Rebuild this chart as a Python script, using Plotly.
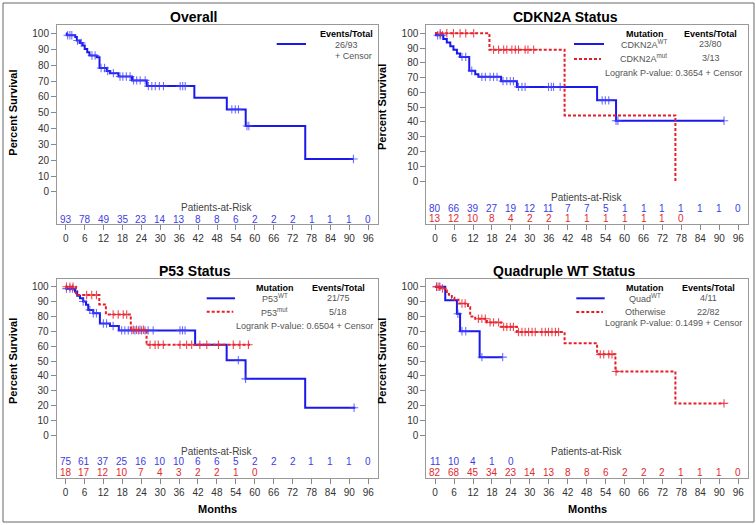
import numpy as np
import plotly.graph_objects as go

W, H = 756, 525
def PX(x): return x / W
def PY(y): return 1 - y / H

FONT = "Liberation Sans, Arial, sans-serif"
BLUE = "rgb(25,25,235)"
BLUE_C = "rgba(60,60,255,0.75)"
BLUE_T = "rgb(60,60,230)"
RED = "rgb(230,30,40)"
RED_C = "rgba(235,40,50,0.85)"
RED_T = "rgb(225,40,45)"

month_ticks = list(range(0, 97, 6))
surv_ticks = list(range(0, 101, 10))

# ---------------- Overall ----------------
ov_t = [0.3, 3.0, 3.5, 4.5, 5.3, 6.0, 6.8, 7.5, 9.8, 10.7, 13.0, 14.0, 16.7, 21.0, 25.7, 40.8, 51.1, 57.1, 76.0]
ov_s = [98.9, 97.8, 95.6, 94.1, 92.4, 90.3, 88.2, 86.1, 85.1, 78.2, 76.3, 75.0, 72.9, 70.4, 66.8, 59.5, 52.1, 41.6, 20.8]
ov_end = 91.3
ov_cens = [0.6, 1.3, 1.9, 3.7, 4.9, 8.3, 9.3, 11.2, 12.3, 13.3, 15.1, 17.2, 18.1, 19.2, 20.4,
           21.5, 22.5, 23.6, 25.2, 26.2, 27.3, 28.4, 29.7, 31.0, 36.3, 37.1, 37.9, 52.7, 53.8,
           54.8, 57.5, 58.1, 91.3]
ov_risk = [93, 78, 49, 35, 23, 14, 13, 8, 8, 6, 2, 2, 2, 1, 1, 1, 0]

# ---------------- CDKN2A ----------------
cw_t = [0.3, 2.6, 3.7, 4.8, 5.8, 6.9, 7.9, 10.8, 12.7, 13.7, 20.9, 25.9, 51.3, 57.3]
cw_s = [98.7, 96.2, 93.7, 91.2, 88.9, 86.3, 84.0, 74.6, 72.3, 70.5, 67.6, 63.7, 54.6, 40.8]
cw_end = 91.5
cw_cens = [0.8, 1.6, 2.3, 8.5, 9.7, 11.6, 14.8, 15.9, 17.4, 18.5, 19.6, 21.5, 22.7, 23.8, 24.8,
           26.4, 27.5, 28.5, 35.9, 36.8, 37.5, 39.6, 52.9, 53.9, 55.0, 57.3, 57.9, 91.5]
cm_t = [17.2, 41.0, 76.1]
cm_s = [88.9, 44.4, 0.0]
cm_end = 76.1
cm_cens = [1.6, 3.7, 5.8, 7.9, 9.7, 12.2, 18.5, 20.1, 21.7, 22.7, 24.3, 25.4, 26.4, 28.5, 29.4, 31.2]
cw_risk = [80, 66, 39, 27, 19, 12, 11, 7, 7, 5, 1, 1, 1, 1, 1, 1, 0]
cm_risk = [13, 12, 10, 8, 4, 2, 2, 1, 1, 1, 1, 1, 1, 0]

# ---------------- P53 ----------------
pw_t = [0.3, 3.0, 3.7, 4.6, 5.6, 6.5, 7.2, 8.8, 10.9, 14.1, 16.9, 41.1, 51.1, 57.1, 76.0]
pw_s = [98.7, 96.8, 93.9, 92.3, 90.1, 87.8, 84.4, 82.2, 75.3, 73.6, 70.6, 61.0, 50.6, 38.0, 18.6]
pw_end = 91.9
pw_cens = [0.3, 1.4, 2.2, 5.6, 7.7, 8.8, 9.8, 12.0, 13.0, 15.1, 17.8, 18.8, 19.9, 21.0, 22.0,
           23.1, 24.1, 25.2, 26.2, 27.8, 36.3, 37.1, 37.9, 54.8, 57.1, 91.5]
pm_t = [3.3, 10.7, 12.8, 20.7, 25.7]
pm_s = [94.4, 88.1, 81.3, 71.1, 61.0]
pm_end = 58.5
pm_cens = [0.3, 1.4, 2.4, 6.7, 8.3, 9.8, 15.1, 16.7, 18.3, 19.4, 21.5, 22.5, 23.6, 24.7, 26.8,
           28.4, 29.4, 31.0, 36.3, 38.4, 40.0, 42.6, 44.8, 48.5, 53.2, 55.3, 58.0]
pw_risk = [75, 61, 37, 25, 16, 10, 10, 6, 6, 5, 2, 2, 2, 1, 1, 1, 0]
pm_risk = [18, 17, 12, 10, 7, 4, 3, 2, 2, 1, 0]

# ---------------- Quadruple WT ----------------
qw_t = [3.2, 6.9, 7.9, 14.1]
qw_s = [90.9, 81.8, 70.0, 52.6]
qw_end = 21.4
qw_cens = [0.5, 1.5, 7.2, 8.5, 9.7, 14.8, 21.4]
qo_t = [1.6, 3.2, 3.7, 4.4, 5.3, 6.1, 7.4, 10.4, 11.1, 12.7, 16.4, 20.9, 25.9, 41.0, 51.3, 57.1, 76.1]
qo_s = [98.8, 97.5, 95.1, 93.8, 92.5, 91.2, 88.7, 86.2, 80.0, 78.5, 76.0, 73.0, 69.5, 62.0, 54.5, 43.0, 21.5]
qo_end = 91.5
qo_cens = [0.5, 1.2, 2.3, 8.5, 9.5, 13.7, 14.8, 15.9, 17.4, 18.5, 20.1, 21.7, 22.7, 23.8, 24.8,
           26.4, 27.5, 28.5, 29.6, 30.7, 31.7, 33.8, 34.9, 35.9, 37.0, 38.1, 39.1, 52.3, 53.4,
           55.0, 56.0, 57.3, 91.5]
qw_risk = [11, 10, 4, 1, 0]
qo_risk = [82, 68, 45, 34, 23, 14, 13, 8, 8, 6, 2, 2, 2, 1, 1, 1, 0]

# ---------------- helpers ----------------
def level(ev_t, ev_s, t):
    i = int(np.searchsorted(ev_t, t, side="right"))
    return 100.0 if i == 0 else ev_s[i - 1]

fig = go.Figure()

def add_curve(k, ev_t, ev_s, end_t, cens, color, ccolor, dash):
    xa = "x" if k == 1 else f"x{k}"
    ya = "y" if k == 1 else f"y{k}"
    xs = [0.0] + list(ev_t) + [end_t]
    ys = [100.0] + list(ev_s) + [ev_s[-1]]
    fig.add_trace(go.Scatter(x=xs, y=ys, mode="lines", line=dict(color=color, width=2, dash=dash, shape="hv"),
                             xaxis=xa, yaxis=ya, showlegend=False, hoverinfo="skip"))
    cy = [level(ev_t, ev_s, t) for t in cens]
    fig.add_trace(go.Scatter(x=cens, y=cy, mode="markers",
                             marker=dict(symbol="cross-thin", size=6, line=dict(width=1.1, color=ccolor)),
                             xaxis=xa, yaxis=ya, showlegend=False, hoverinfo="skip"))

add_curve(1, ov_t, ov_s, ov_end, ov_cens, BLUE, BLUE_C, "solid")
add_curve(2, cw_t, cw_s, cw_end, cw_cens, BLUE, BLUE_C, "solid")
add_curve(2, cm_t, cm_s, cm_end, cm_cens, RED, RED_C, "3px,2px")
add_curve(3, pw_t, pw_s, pw_end, pw_cens, BLUE, BLUE_C, "solid")
add_curve(3, pm_t, pm_s, pm_end, pm_cens, RED, RED_C, "3px,2px")
add_curve(4, qw_t, qw_s, qw_end, qw_cens, BLUE, BLUE_C, "solid")
add_curve(4, qo_t, qo_s, qo_end, qo_cens, RED, RED_C, "3px,2px")

# panel frames (pixel) and y ranges
panels = {
    1: dict(x=(57, 377.7), y=(25, 224), yr=(-20.3, 105.4)),
    2: dict(x=(426.3, 747.7), y=(25, 224.3), yr=(-29.3, 105.6)),
    3: dict(x=(56.7, 377.7), y=(279, 478.3), yr=(-28.9, 105.2)),
    4: dict(x=(426.3, 747.7), y=(279, 478.3), yr=(-28.9, 105.2)),
}
layout = {}
for k, p in panels.items():
    xn = "xaxis" if k == 1 else f"xaxis{k}"
    yn = "yaxis" if k == 1 else f"yaxis{k}"
    ya = "y" if k == 1 else f"y{k}"
    xa = "x" if k == 1 else f"x{k}"
    layout[xn] = dict(domain=[PX(p["x"][0]), PX(p["x"][1])], anchor=ya, range=[-2.8, 99],
                      tickvals=month_ticks, ticks="outside", ticklen=5, tickcolor="#888",
                      showline=True, mirror=True, linecolor="#999", linewidth=1,
                      showgrid=False, zeroline=False, fixedrange=True,
                      tickfont=dict(family=FONT, size=10, color="#333"))
    layout[yn] = dict(domain=[PY(p["y"][1]), PY(p["y"][0])], anchor=xa, range=list(p["yr"]),
                      tickvals=surv_ticks, ticks="outside", ticklen=5, tickcolor="#888",
                      showline=True, mirror=True, linecolor="#999", linewidth=1,
                      showgrid=False, zeroline=False, fixedrange=True,
                      tickfont=dict(family=FONT, size=10, color="#333"))

ann = []
def txt(x, y, s, size=9, color="#555", bold=False, xanchor="center", **kw):
    if bold:
        s = f"<b>{s}</b>"
    d = dict(x=PX(x), y=PY(y), xref="paper", yref="paper", text=s, showarrow=False,
             xanchor=xanchor, yanchor="middle", font=dict(family=FONT, size=size, color=color))
    d.update(kw)
    ann.append(d)

# titles
txt(193.5, 16.7, "Overall", size=14, color="#000", bold=True)
txt(565, 16.7, "CDKN2A Status", size=14, color="#000", bold=True)
txt(194.5, 271, "P53 Status", size=14, color="#000", bold=True)
txt(564, 271, "Quadruple WT Status", size=14, color="#000", bold=True)

# y axis titles
for (x, y) in [(13, 112.7), (382, 107), (13, 361), (382, 361)]:
    txt(x, y, "Percent Survival", size=11, color="#000", bold=True, textangle=-90)
# x axis titles
txt(217.2, 509, "Months", size=11, color="#000", bold=True)
txt(587, 509, "Months", size=11, color="#000", bold=True)

# at-risk tables
def risk(k, vals, yval, color):
    xa = "x" if k == 1 else f"x{k}"
    ya = "y" if k == 1 else f"y{k}"
    for t, v in zip(month_ticks, vals):
        ann.append(dict(x=t, y=yval, xref=xa, yref=ya, text=str(v), showarrow=False,
                        xanchor="center", yanchor="middle",
                        font=dict(family=FONT, size=10, color=color)))

def risk_head(k, yval):
    xa = "x" if k == 1 else f"x{k}"
    ya = "y" if k == 1 else f"y{k}"
    ann.append(dict(x=0.5, y=yval, xref=f"{xa} domain", yref=ya, text="Patients-at-Risk",
                    showarrow=False, xanchor="center", yanchor="middle",
                    font=dict(family=FONT, size=10, color="#444")))

risk_head(1, -10.0); risk(1, ov_risk, -17.2, BLUE_T)
risk_head(2, -11.0); risk(2, cw_risk, -18.5, BLUE_T); risk(2, cm_risk, -25.5, RED_T)
risk_head(3, -10.6); risk(3, pw_risk, -17.8, BLUE_T); risk(3, pm_risk, -25.2, RED_T)
risk_head(4, -10.6); risk(4, qw_risk, -17.8, BLUE_T); risk(4, qo_risk, -25.2, RED_T)

# legends
shapes = []
def lline(x0, x1, y, color, dash):
    shapes.append(dict(type="line", xref="paper", yref="paper", x0=PX(x0), x1=PX(x1), y0=PY(y), y1=PY(y),
                       line=dict(color=color, width=2, dash=dash)))

# panel 1
txt(346.7, 34.3, "Events/Total", color="#000", bold=True)
lline(276.7, 306, 44, BLUE, "solid")
txt(346.3, 45, "26/93")
txt(353.7, 55.7, "+ Censor")
# panel 2
txt(645.2, 34.3, "Mutation", color="#000", bold=True)
txt(710.7, 34.3, "Events/Total", color="#000", bold=True)
lline(574, 604, 44, BLUE, "solid")
lline(574, 601, 59, RED, "3px,2px")
txt(643.5, 44, "CDKN2A<sup>WT</sup>")
txt(710.5, 44, "23/80")
txt(643.5, 58.3, "CDKN2A<sup>mut</sup>")
txt(710.5, 58.3, "3/13")
txt(673.8, 72.7, "Logrank P-value: 0.3654 + Censor")
# panel 3
txt(275, 288.3, "Mutation", color="#000", bold=True)
txt(338.8, 288.3, "Events/Total", color="#000", bold=True)
lline(206.7, 235, 298.3, BLUE, "solid")
lline(206.7, 233.3, 311.7, RED, "3px,2px")
txt(274.5, 298.3, "P53<sup>WT</sup>")
txt(338.3, 298.3, "21/75")
txt(274.5, 312.3, "P53<sup>mut</sup>")
txt(338.3, 312.3, "5/18")
txt(304.3, 326, "Logrank P-value: 0.6504 + Censor")
# panel 4
txt(644.7, 288.3, "Mutation", color="#000", bold=True)
txt(708.7, 288.3, "Events/Total", color="#000", bold=True)
lline(576.3, 604.7, 298.3, BLUE, "solid")
lline(576.3, 603, 312, RED, "3px,2px")
txt(645, 298.3, "Quad<sup>WT</sup>")
txt(708.7, 298.3, "4/11")
txt(645, 312.3, "Otherwise")
txt(708.7, 312.3, "22/82")
txt(673.8, 323.3, "Logrank P-value: 0.1499 + Censor")

# outer border
shapes.append(dict(type="rect", xref="paper", yref="paper", x0=PX(3), x1=PX(754), y0=PY(522), y1=PY(3),
                   line=dict(color="#666", width=1), fillcolor="rgba(0,0,0,0)"))

fig.update_layout(width=W, height=H, margin=dict(l=0, r=0, t=0, b=0), paper_bgcolor="white",
                  plot_bgcolor="white", showlegend=False, annotations=ann, shapes=shapes,
                  font=dict(family=FONT), **layout)
fig.write_html("out.html", config={"displayModeBar": False},
               post_script="document.body.style.margin='0';document.body.style.overflow='hidden';")
